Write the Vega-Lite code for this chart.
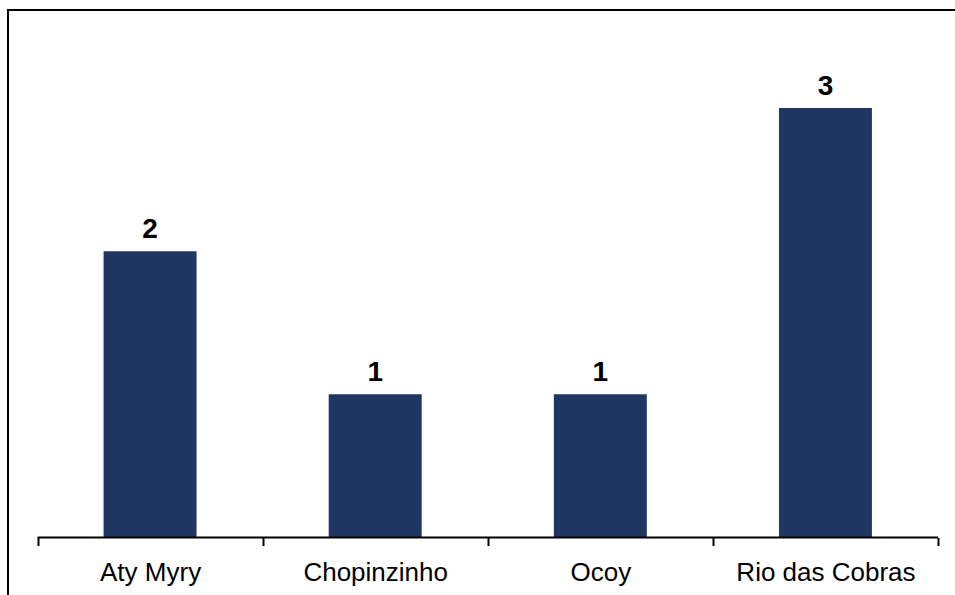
{
  "$schema": "https://vega.github.io/schema/vega-lite/v6.json",
  "autosize": {"type": "none"},
  "padding": {"left": 8, "top": 10, "right": -6, "bottom": -6},
  "width": 953,
  "height": 591,
  "background": "white",
  "config": {
    "view": {"stroke": "#000000", "strokeWidth": 2},
    "font": "Liberation Sans"
  },
  "data": {
    "values": [
      {"territorio": "Aty Myry", "n": 2},
      {"territorio": "Chopinzinho", "n": 1},
      {"territorio": "Ocoy", "n": 1},
      {"territorio": "Rio das Cobras", "n": 3}
    ]
  },
  "encoding": {
    "x": {
      "field": "territorio",
      "type": "nominal",
      "sort": null,
      "scale": {"paddingInner": 0, "paddingOuter": 0.1166, "align": 0.562},
      "axis": {
        "title": null,
        "domain": false,
        "labelAngle": 0,
        "labelFont": "Liberation Sans",
        "labelFontSize": 26,
        "labelColor": "#000000",
        "labelLimit": 400,
        "labelOverlap": false,
        "labelPadding": 14,
        "tickBand": "extent",
        "tickColor": "#000000",
        "tickWidth": 2,
        "tickSize": 8,
        "offset": -63.5,
        "grid": false
      }
    }
  },
  "layer": [
    {
      "mark": {"type": "bar", "color": "#213763", "width": {"band": 0.413}},
      "encoding": {
        "y": {
          "field": "n",
          "type": "quantitative",
          "scale": {"domain": [-0.4434, 3.684], "nice": false, "zero": false},
          "axis": null
        },
        "y2": {"datum": 0}
      }
    },
    {
      "mark": {"type": "text", "fontWeight": "bold", "fontSize": 28, "baseline": "alphabetic", "dy": -13, "color": "#000000"},
      "encoding": {
        "y": {"field": "n", "type": "quantitative"},
        "text": {"field": "n", "type": "quantitative"}
      }
    },
    {
      "data": {"values": [{"a": "Aty Myry", "b": "Rio das Cobras"}]},
      "mark": {"type": "rule", "color": "#000000", "strokeWidth": 2},
      "encoding": {
        "x": {"field": "a", "type": "nominal", "bandPosition": 0},
        "x2": {"field": "b", "bandPosition": 1},
        "y": {"datum": 0, "type": "quantitative"}
      }
    }
  ]
}
